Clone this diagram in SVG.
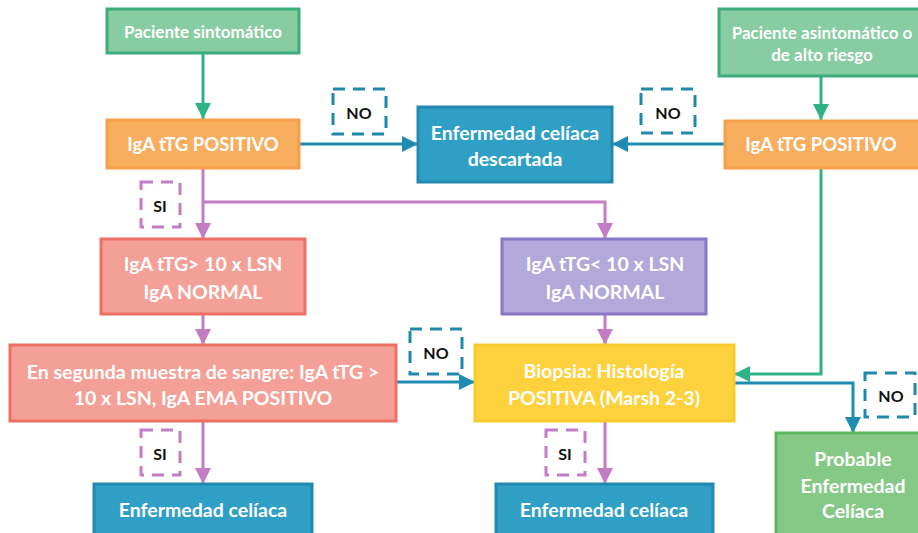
<svg xmlns="http://www.w3.org/2000/svg" width="918" height="533" viewBox="0 0 918 533">
<style>
text{font-family:Lato,"Open Sans","Liberation Sans",sans-serif;font-weight:700;text-anchor:middle;dominant-baseline:central}
.w{fill:#ffffff;font-size:19.5px}
.wp{fill:#ffffff;font-size:18.5px}
.ws{fill:#ffffff;font-size:17px}
.lab{fill:#111111;font-size:16px}
.green rect{fill:#88cca2;stroke:#3dac7c;stroke-width:3}
.orange rect{fill:#f9ad5e;stroke:#f6a04c;stroke-width:3}
.teal rect{fill:#2f9fc5;stroke:#2389ae;stroke-width:3}
.salmon rect{fill:#f5a096;stroke:#ee7064;stroke-width:3}
.lav rect{fill:#b2a8d9;stroke:#8877c4;stroke-width:3}
.yellow rect{fill:#fdd23c;stroke:#f9ca2c;stroke-width:3}
.lgreen rect{fill:#86c987;stroke:#5db65f;stroke-width:3}
.dno{fill:#ffffff;stroke:#2188ad;stroke-width:3;stroke-dasharray:12 8}
.dsi{fill:#ffffff;stroke:#c47cc3;stroke-width:3;stroke-dasharray:12 8}
#connectors path{fill:none;stroke-width:3}
.cg{stroke:#2fb386}
.ct{stroke:#1e8cb2}
.cp{stroke:#c47cc3}
</style>
<defs>
<marker id="ag" markerUnits="userSpaceOnUse" markerWidth="16" markerHeight="16" refX="16" refY="8" orient="auto"><path d="M0,0 L16,8 L0,16 z" fill="#2fb386"/></marker>
<marker id="at" markerUnits="userSpaceOnUse" markerWidth="16" markerHeight="16" refX="16" refY="8" orient="auto"><path d="M0,0 L16,8 L0,16 z" fill="#1e8cb2"/></marker>
<marker id="ap" markerUnits="userSpaceOnUse" markerWidth="16" markerHeight="16" refX="16" refY="8" orient="auto"><path d="M0,0 L16,8 L0,16 z" fill="#c47cc3"/></marker>
</defs>
<rect width="918" height="533" fill="#ffffff"/>

<g id="connectors">
<path class="cg" d="M203,53 V119" marker-end="url(#ag)"/>
<path class="cg" d="M821,76 V120" marker-end="url(#ag)"/>
<path class="ct" d="M299,144 H418" marker-end="url(#at)"/>
<path class="ct" d="M725,144 H612" marker-end="url(#at)"/>
<path class="cp" d="M203,168 V239" marker-end="url(#ap)"/>
<path class="cp" d="M203,202 H605 V239" marker-end="url(#ap)"/>
<path class="cp" d="M203,314 V345" marker-end="url(#ap)"/>
<path class="cp" d="M605,314 V345" marker-end="url(#ap)"/>
<path class="ct" d="M396,382 H475" marker-end="url(#at)"/>
<path class="cg" d="M821,168 V374 H734" marker-end="url(#ag)"/>
<path class="ct" d="M734,383 H853 V433" marker-end="url(#at)"/>
<path class="cp" d="M203,421 V484" marker-end="url(#ap)"/>
<path class="cp" d="M605,421 V484" marker-end="url(#ap)"/>
</g>

<g id="n_sintomatico" class="green"><rect x="107" y="9" width="192" height="44"/><text class="ws" x="203" y="31">Paciente sintomático</text></g>
<g id="n_asintomatico" class="green"><rect x="719" y="9" width="206" height="67"/><text class="ws" x="822" y="32">Paciente asintomático o</text><text class="ws" x="822" y="54">de alto riesgo</text></g>
<g id="n_igaL" class="orange"><rect x="107" y="120" width="192" height="48"/><text class="wp" x="203" y="144">IgA tTG POSITIVO</text></g>
<g id="n_igaR" class="orange"><rect x="725" y="121" width="196" height="47"/><text class="wp" x="821" y="144">IgA tTG POSITIVO</text></g>
<g id="n_descartada" class="teal"><rect x="418" y="107" width="194" height="75"/><text class="w" x="515" y="132">Enfermedad celíaca</text><text class="w" x="515" y="158">descartada</text></g>
<g id="n_mayor" class="salmon"><rect x="101" y="239" width="204" height="75"/><text class="w" x="203" y="263">IgA tTG&gt; 10 x LSN</text><text class="w" x="203" y="291">IgA NORMAL</text></g>
<g id="n_menor" class="lav"><rect x="502" y="239" width="204" height="75"/><text class="w" x="605" y="263">IgA tTG&lt; 10 x LSN</text><text class="w" x="605" y="291">IgA NORMAL</text></g>
<g id="n_segunda" class="salmon"><rect x="10" y="345" width="386" height="76"/><text class="w" x="203" y="371">En segunda muestra de sangre: IgA tTG &gt;</text><text class="w" x="203" y="397">10 x LSN, IgA EMA POSITIVO</text></g>
<g id="n_biopsia" class="yellow"><rect x="475" y="345" width="259" height="76"/><text class="w" x="604" y="370">Biopsia: Histología</text><text class="w" x="604" y="397">POSITIVA (Marsh 2-3)</text></g>
<g id="n_celiacaL" class="teal"><rect x="94" y="484" width="218" height="60"/><text class="w" x="203" y="509">Enfermedad celíaca</text></g>
<g id="n_celiacaM" class="teal"><rect x="496" y="484" width="217" height="60"/><text class="w" x="604" y="509">Enfermedad celíaca</text></g>
<g id="n_probable" class="lgreen"><rect x="776" y="433" width="154" height="112"/><text class="w" x="853" y="458">Probable</text><text class="w" x="853" y="485">Enfermedad</text><text class="w" x="853" y="510">Celíaca</text></g>

<g id="lbl_no1"><rect class="dno" x="333" y="89" width="53" height="45"/><text class="lab" x="359" y="112">NO</text></g>
<g id="lbl_no2"><rect class="dno" x="641" y="89" width="54" height="44"/><text class="lab" x="668" y="112">NO</text></g>
<g id="lbl_no3"><rect class="dno" x="410" y="329" width="52" height="45"/><text class="lab" x="436" y="352">NO</text></g>
<g id="lbl_no4"><rect class="dno" x="865" y="373" width="50" height="44"/><text class="lab" x="891" y="395">NO</text></g>
<g id="lbl_si1"><rect class="dsi" x="141" y="182" width="39" height="45"/><text class="lab" x="160" y="205">SI</text></g>
<g id="lbl_si2"><rect class="dsi" x="141" y="430" width="39" height="45"/><text class="lab" x="160" y="453">SI</text></g>
<g id="lbl_si3"><rect class="dsi" x="546" y="430" width="39" height="45"/><text class="lab" x="565" y="453">SI</text></g>
</svg>
